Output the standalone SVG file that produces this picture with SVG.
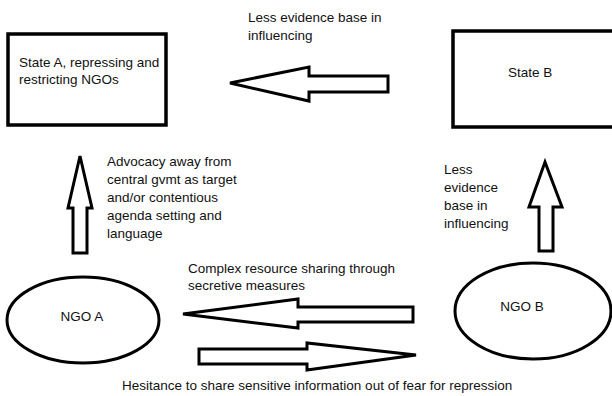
<svg xmlns="http://www.w3.org/2000/svg" width="612" height="396" viewBox="0 0 612 396">
<style>
.box{fill:#fff;stroke:#000;stroke-width:3.5}
.ell{fill:#fff;stroke:#000;stroke-width:3}
.arr{fill:#fff;stroke:#000;stroke-width:3;stroke-linejoin:miter}
text{font-family:"Liberation Sans",Arial,sans-serif;font-size:13.5px;fill:#111}
</style>
<rect width="612" height="396" fill="#fff"/>
<g id="stateA">
<rect class="box" x="8" y="34" width="158" height="91"/>
<text x="19" y="67">State A, repressing and</text>
<text x="19" y="84">restricting NGOs</text>
</g>
<g id="stateB">
<rect class="box" x="453" y="31" width="162" height="96"/>
<text x="508" y="77">State B</text>
</g>
<g id="ngoA">
<ellipse class="ell" cx="83" cy="320" rx="76" ry="43"/>
<text x="82" y="321" text-anchor="middle">NGO A</text>
</g>
<g id="ngoB">
<ellipse class="ell" cx="533" cy="311" rx="78" ry="48"/>
<text x="522" y="311" text-anchor="middle">NGO B</text>
</g>
<g id="connectors">
<path class="arr" d="M230,83 L309,67 L309,76 L388,76 L388,92 L309,92 L309,101 Z"/>
<path class="arr" d="M80,156 L92,208 L87,208 L87,253 L73,253 L73,208 L68,208 Z"/>
<path class="arr" d="M545,162 L562,207 L553,207 L553,251 L539,251 L539,207 L529,207 Z"/>
<path class="arr" d="M183,314 L298,299 L298,307 L413,307 L413,322 L298,322 L298,328 Z"/>
<path class="arr" d="M416,355 L307,343 L307,349 L199,349 L199,364 L307,364 L307,370 Z"/>
</g>
<g id="labels">
<text x="248" y="22">Less evidence base in</text>
<text x="248" y="40">influencing</text>
<text x="107" y="166">Advocacy away from</text>
<text x="107" y="184">central gvmt as target</text>
<text x="107" y="202">and/or contentious</text>
<text x="107" y="220">agenda setting and</text>
<text x="107" y="238">language</text>
<text x="444" y="174">Less</text>
<text x="444" y="192">evidence</text>
<text x="444" y="210">base in</text>
<text x="444" y="228">influencing</text>
<text x="188" y="273">Complex resource sharing through</text>
<text x="188" y="290">secretive measures</text>
<text x="122" y="390">Hesitance to share sensitive information out of fear for repression</text>
</g>
</svg>
